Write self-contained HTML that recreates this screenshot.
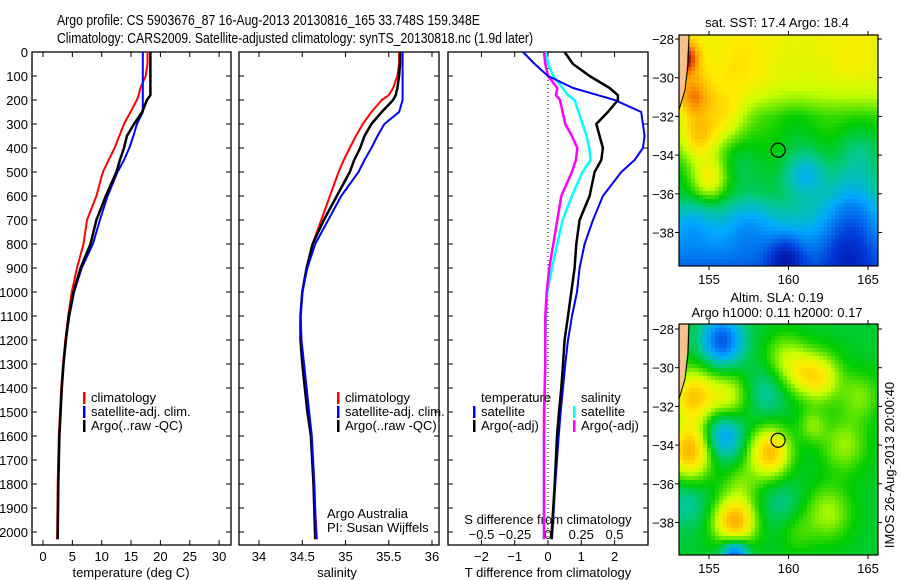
<!DOCTYPE html>
<html><head><meta charset="utf-8"><style>
html,body{margin:0;padding:0;background:#fff;}
svg{display:block;font-family:"Liberation Sans",sans-serif;}
text{font-size:13px;fill:#000;}
</style></head><body>
<svg id="chart" width="900" height="580" viewBox="0 0 900 580" xmlns="http://www.w3.org/2000/svg">
<text x="57" y="25" textLength="423" lengthAdjust="spacingAndGlyphs" style="font-size:14.5px">Argo profile: CS 5903676_87 16-Aug-2013 20130816_165 33.748S 159.348E</text>
<text x="57" y="43" textLength="476" lengthAdjust="spacingAndGlyphs" style="font-size:14.5px">Climatology: CARS2009. Satellite-adjusted climatology: synTS_20130818.nc (1.9d later)</text>
<g id="g"></g>
</svg>
<script>
const depths=[0,50,100,150,180,200,250,300,350,400,450,500,600,700,800,900,1000,1100,1200,1300,1400,1500,1600,1800,2030];
const tempClim=[17.8,17.8,17.5,16.6,16.3,16.0,14.9,13.8,13.0,12.2,11.2,10.2,9.1,7.5,6.9,5.8,4.9,4.3,3.8,3.4,3.1,2.9,2.7,2.5,2.4];
const tempArgo=[18.3,18.3,18.3,18.3,18.3,17.7,16.9,15.5,14.3,13.8,13.1,12.5,10.7,9.1,8.1,6.4,5.2,4.4,3.9,3.5,3.2,3.0,2.8,2.6,2.5];
const tempSat=[17.0,17.0,17.0,17.0,17.0,17.0,17.0,16.0,15.4,14.7,13.8,12.7,11.0,9.7,8.5,6.6,5.3,4.5,3.9,3.5,3.2,3.0,2.8,2.6,2.5];
const salClim=[35.62,35.62,35.6,35.55,35.5,35.42,35.3,35.2,35.12,35.05,34.98,34.92,34.82,34.72,34.62,34.55,34.5,34.48,34.49,34.52,34.55,34.57,34.6,34.63,34.67];
const salArgo=[35.63,35.63,35.62,35.6,35.58,35.55,35.42,35.3,35.22,35.17,35.1,35.05,34.9,34.75,34.62,34.55,34.5,34.48,34.48,34.5,34.53,34.56,34.6,34.63,34.65];
const salSat=[35.66,35.66,35.66,35.66,35.66,35.66,35.62,35.45,35.37,35.3,35.22,35.15,34.95,34.8,34.65,34.56,34.5,34.48,34.49,34.52,34.55,34.58,34.61,34.64,34.66];
const dTSat=[-0.75,-0.4,0,0.75,1.5,2.0,2.8,2.85,2.9,2.85,2.6,2.2,1.65,1.35,1.1,0.95,0.87,0.72,0.6,0.52,0.45,0.38,0.32,0.22,0.12];
const dTArgo=[0.5,0.75,1.25,1.85,2.1,2.1,1.8,1.45,1.55,1.65,1.6,1.4,1.25,0.95,0.85,0.8,0.7,0.6,0.5,0.45,0.4,0.33,0.27,0.2,0.1];
const dSSat=[-0.015,0.0,0.04,0.11,0.15,0.2,0.23,0.26,0.29,0.31,0.32,0.26,0.18,0.11,0.07,0.03,-0.005,-0.015,-0.02,-0.02,-0.025,-0.025,-0.03,-0.03,-0.03];
const dSArgo=[-0.03,-0.02,0,0.07,0.06,0.09,0.11,0.13,0.18,0.22,0.21,0.18,0.1,0.07,0.04,0.01,-0.01,-0.02,-0.02,-0.02,-0.025,-0.03,-0.03,-0.03,-0.03];
const depthTicks=[0,100,200,300,400,500,600,700,800,900,1000,1100,1200,1300,1400,1500,1600,1700,1800,1900,2000];
const tempTicks=[0,5,10,15,20,25,30];
const salTicks=["34","34.5","35","35.5","36"];
const dTTicks=["-2","-1","0","1","2"];
const dSTicks=["-0.5","-0.25","0","0.25","0.5"];
const latTicks=[-28,-30,-32,-34,-36,-38];
const lonTicks=[155,160,165];
const argoLon=159.348, argoLat=-33.748;
const sstLat=[-27.8,-30,-31,-32,-34,-36,-38,-39.8];
const sstBase=[0.67,0.65,0.61,0.54,0.5,0.46,0.32,0.2];
const sstBumps=[[153.5,-29,0.32,0.6],[154,-31,0.22,0.8],[154.3,-33,0.22,0.9],[155,-35.2,0.2,0.8],[156,-32,0.14,0.9],[157,-29.5,0.06,1.2],[160.5,-32.5,-0.04,1.0],[157,-34.3,-0.04,0.9],[161,-35,-0.15,0.9],[164,-36.5,-0.15,1.3],[159.8,-39.3,-0.17,0.8],[163.8,-39,-0.13,1.2],[164.5,-33.7,-0.08,1.0],[157.5,-37.5,-0.08,1.0],[154,-37.5,-0.06,0.8],[164,-29,0.03,1.0]];
const slaBumps=[[155.8,-28.6,-0.28,0.9],[154,-31.5,0.28,1.0],[153.8,-34.3,0.32,1.0],[156.6,-38,0.33,0.9],[158.8,-34.4,0.3,0.9],[162,-30.5,0.2,0.9],[156.2,-31.5,0.16,0.9],[155.8,-33.5,-0.2,0.9],[156.6,-39.6,-0.3,0.6],[158.5,-31.3,-0.08,0.9],[159.5,-37,-0.06,0.9],[159.8,-29.5,0.12,0.9],[163.5,-34,0.12,1.0],[162.5,-37.5,0.13,1.0],[153.6,-37,-0.08,0.9],[160.8,-30.3,0.12,0.8],[164.5,-31.5,0.1,0.9],[161.5,-33,0.1,0.6],[157,-36,0.08,0.8],[160.5,-38.5,0.06,0.8]];

const NS="http://www.w3.org/2000/svg";
const G=document.getElementById('g');
function el(tag,attrs,parent){const e=document.createElementNS(NS,tag);for(const k in attrs)e.setAttribute(k,attrs[k]);(parent||G).appendChild(e);return e;}
function txt(x,y,s,anchor,parent){const t=el('text',{x:x,y:y,'text-anchor':anchor||'start'},parent);t.textContent=s;return t;}

const yD=d=>52+0.24*d;
const xT=t=>43+5.87*t;
const xS=s=>259+86.5*(s-34);
const xdT=t=>548+33.3*t;
const xdS=s=>548+133*s;
const panels=[[32,231],[239,439],[448,648]];
const TOP=52,BOT=545;

panels.forEach((p,i)=>{
  const f=el('rect',{x:p[0],y:TOP,width:p[1]-p[0],height:BOT-TOP,fill:'none',stroke:'#000','stroke-width':1.3});
  
  
  depthTicks.forEach(d=>{
    el('line',{x1:p[0],x2:p[0]+5,y1:yD(d),y2:yD(d),stroke:'#000'});
    el('line',{x1:p[1]-5,x2:p[1],y1:yD(d),y2:yD(d),stroke:'#000'});
  });
});
depthTicks.forEach(d=>{
  const t=txt(28,yD(d)+5,String(d),'end');
  
  
});
function xticks(vals,fx,labels,ylab){
  vals.forEach((v,i)=>{
    const x=fx(+v);
    el('line',{x1:x,x2:x,y1:BOT-5,y2:BOT,stroke:'#000'});
    el('line',{x1:x,x2:x,y1:TOP,y2:TOP+5,stroke:'#000'});
    if(labels){const t=txt(x,ylab,String(v).replace('-','\u2212'),'middle');
      
      }
  });
}
xticks(tempTicks,xT,true,561);
xticks(salTicks,xS,true,561);
xticks(dTTicks,xdT,true,561);
dSTicks.forEach(v=>{const t=txt(xdS(+v),539,v.replace('-','\u2212'),'middle');
  
  });
let t;
t=txt(131,577,'temperature (deg C)','middle');
t=txt(337,577,'salinity','middle');
t=txt(548,577,'T difference from climatology','middle');
t=txt(548,524,'S difference from climatology','middle');
t=txt(327,518,'Argo Australia');
t=txt(327,532,'PI: Susan Wijffels');
const z=el('line',{x1:548,x2:548,y1:TOP,y2:BOT,stroke:'#000','stroke-dasharray':'1,3'});


function series(vals,fx,color,w,name){
  const pts=vals.map((v,i)=>fx(v).toFixed(1)+','+yD(depths[i]).toFixed(1)).join(' ');
  const p=el('polyline',{points:pts,fill:'none',stroke:color,'stroke-width':w,'stroke-linejoin':'round'});
  
  
}
series(tempClim,xT,'#f00',2,'temp-climatology-line');
series(tempSat,xT,'#00f',2,'temp-satellite-line');
series(tempArgo,xT,'#000',2.5,'temp-argo-line');
series(salClim,xS,'#f00',2,'sal-climatology-line');
series(salArgo,xS,'#000',2.5,'sal-argo-line');
series(salSat,xS,'#00f',2,'sal-satellite-line');
series(dSSat,xdS,'#0ff',2.5,'sdiff-satellite-line');
series(dSArgo,xdS,'#f0f',2.5,'sdiff-argo-line');
series(dTSat,xdT,'#00f',2,'tdiff-satellite-line');
series(dTArgo,xdT,'#000',2.5,'tdiff-argo-line');

function legend(x,y,items,nm){
  items.forEach((it,i)=>{
    const yy=y+i*14;
    el('rect',{x:x,y:yy-10,width:2.5,height:12,fill:it[1]});
    const tt=txt(x+8,yy,it[0]);
    
    
  });
}
legend(83,402,[['climatology','#f00'],['satellite-adj. clim.','#00f'],['Argo(..raw -QC)','#000']],'legend-temp');
legend(337,402,[['climatology','#f00'],['satellite-adj. clim.','#00f'],['Argo(..raw -QC)','#000']],'legend-sal');
t=txt(481,402,'temperature');
legend(473,416,[['satellite','#00f'],['Argo(-adj)','#000']],'legend-tdiff');
t=txt(581,402,'salinity');
legend(573,416,[['satellite','#0ff'],['Argo(-adj)','#f0f']],'legend-sdiff');

const stops=[[0,[0,0,140]],[0.15,[0,60,220]],[0.3,[0,170,255]],[0.4,[0,200,150]],[0.5,[0,205,0]],[0.62,[200,255,0]],[0.7,[255,235,0]],[0.82,[255,160,0]],[0.92,[225,60,0]],[1,[140,0,0]]];
function cmap(v){v=Math.max(0,Math.min(1,v));for(let i=1;i<stops.length;i++){if(v<=stops[i][0]){const a=stops[i-1],b=stops[i];const f=(v-a[0])/(b[0]-a[0]);return 'rgb('+a[1].map((c,k)=>Math.round(c+(b[1][k]-c)*f)).join(',')+')';}}return 'rgb(140,0,0)';}
function interp(xs,ys,x){if(x>=xs[0])return ys[0];for(let i=1;i<xs.length;i++){if(x>=xs[i]){const f=(x-xs[i-1])/(xs[i]-xs[i-1]);return ys[i-1]+(ys[i]-ys[i-1])*f;}}return ys[ys.length-1];}
function bumps(arr,lon,lat){let s=0;arr.forEach(b=>{const d2=(lon-b[0])**2+(lat-b[1])**2;s+=b[2]*Math.exp(-d2/(2*b[3]*b[3]));});return s;}
function drawMap(x0,y0,lat28y,field,name,title1,title2){
  const W=199,H=231;
  const lonX=lon=>709+(lon-155)*15.9+(x0-679);
  const latY=lat=>lat28y+(-28-lat)*19.35;
  const g=el('g',{});
  
  
  const cs=4;
  for(let px=x0;px<x0+W;px+=cs){for(let py=y0;py<y0+H;py+=cs){
    const lon=155+(px+cs/2-709-(x0-679))/15.9, lat=-28-(py+cs/2-lat28y)/19.35;
    el('rect',{x:px,y:py,width:Math.min(cs,x0+W-px),height:Math.min(cs,y0+H-py),fill:cmap(field(lon,lat))},g);
  }}
  el('polygon',{points:`${x0},${y0} ${x0+9},${y0} ${x0+8},${y0+30} ${x0+5},${y0+55} ${x0},${y0+75}`,fill:'#f9c08f'},g);
  el('polyline',{points:`${x0+10},${y0} ${x0+9},${y0+30} ${x0+6},${y0+55} ${x0},${y0+75}`,fill:'none',stroke:'#000'},g);
  el('rect',{x:x0,y:y0,width:W,height:H,fill:'none',stroke:'#000','stroke-width':1.2},g);
  const c=el('circle',{cx:lonX(argoLon),cy:latY(argoLat),r:7,fill:'none',stroke:'#000','stroke-width':1.2});
  
  
  latTicks.forEach(l=>{const y=latY(l);el('line',{x1:x0-4,x2:x0,y1:y,y2:y,stroke:'#000'});el('line',{x1:x0+W,x2:x0+W+4,y1:y,y2:y,stroke:'#000'});
    const tt=txt(x0-5,y+5,'\u2212'+Math.abs(l),'end');});
  lonTicks.forEach(l=>{const x=lonX(l);el('line',{x1:x,x2:x,y1:y0-4,y2:y0,stroke:'#000'});el('line',{x1:x,x2:x,y1:y0+H,y2:y0+H+4,stroke:'#000'});
    const tt=txt(x,y0+H+18,String(l),'middle');});
  title1.forEach((s,i)=>{const tt=txt(777,title2[i],s,'middle');});
}
drawMap(679,35,39,(lon,lat)=>interp(sstLat,sstBase,lat)+bumps(sstBumps,lon,lat),'sst-map',['sat. SST: 17.4 Argo: 18.4'],[27]);
drawMap(679,324,329,(lon,lat)=>0.47+bumps(slaBumps,lon,lat),'sla-map',['Altim. SLA: 0.19','Argo h1000: 0.11 h2000: 0.17'],[302,317]);
t=txt(0,0,'IMOS 26-Aug-2013 20:00:40','middle');
t.setAttribute('transform','translate(894,465) rotate(-90)');


</script>
</body></html>
